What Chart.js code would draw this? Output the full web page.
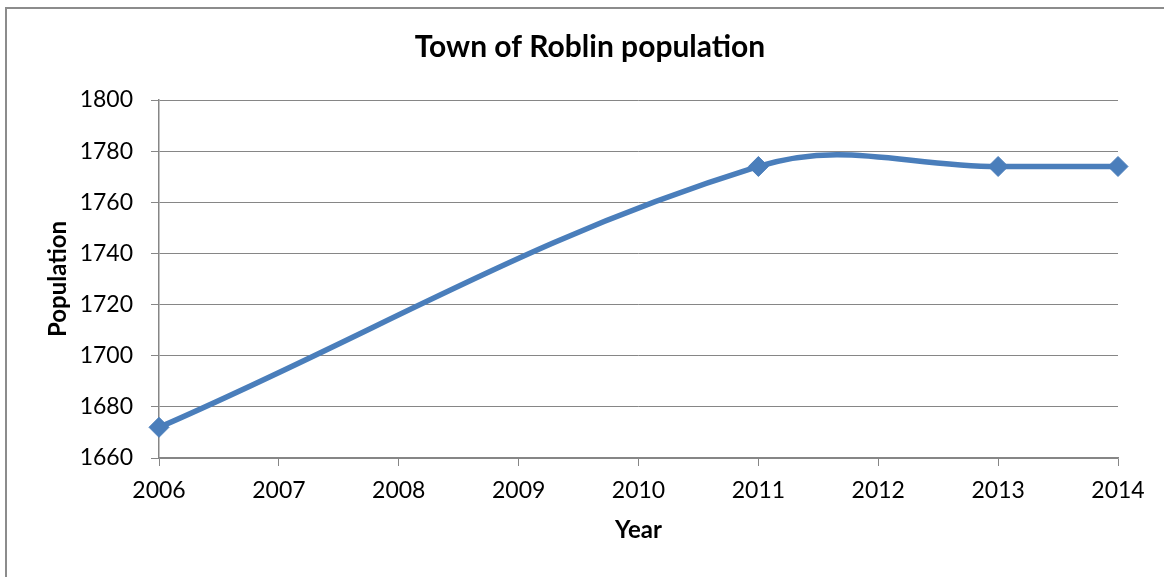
<!DOCTYPE html>
<html>
<head>
<meta charset="utf-8">
<script src="https://cdn.jsdelivr.net/npm/chart.js@4"></script>
<style>
  html, body { margin: 0; padding: 0; background: #fff; overflow: hidden; }
  #frame {
    position: absolute; left: 5px; top: 7px; width: 1200px; height: 600px;
    border-left: 2px solid #8c8c8c; border-top: 2px solid #8c8c8c;
  }
  #wrap { position: absolute; left: 0; top: 0; width: 1164px; height: 577px; }
</style>
</head>
<body>
<div id="frame"></div>
<div id="wrap"><canvas id="popChart"></canvas></div>
<script>
// Chart data
const years = [2006, 2011, 2013, 2014];
const population = [1672, 1774, 1774, 1774];
const yearTicks = [2006, 2007, 2008, 2009, 2010, 2011, 2012, 2013, 2014];
const popTicks = [1660, 1680, 1700, 1720, 1740, 1760, 1780, 1800];

const gridColor = "#868686";
const lineColor = "#4a7ebb";
const fontFamily = "Lato, 'Open Sans', sans-serif";

const points = years.map((year, i) => ({ x: year, y: population[i] }));

const ctx = document.getElementById("popChart").getContext("2d");
new Chart(ctx, {
  type: "line",
  data: {
    datasets: [
      {
        label: "Population",
        data: points,
        borderColor: lineColor,
        backgroundColor: lineColor,
        borderWidth: 5.5,
        tension: 0.38,
        fill: false,
        clip: false,
        pointStyle: "rectRot",
        pointRadius: 10,
        pointHoverRadius: 10,
        pointBorderWidth: 1,
      },
    ],
  },
  options: {
    responsive: true,
    maintainAspectRatio: false,
    animation: false,
    layout: { padding: { left: 16, right: 0, top: 0, bottom: 0 } },
    plugins: {
      legend: { display: false },
      tooltip: { enabled: false },
      title: {
        display: true,
        text: "Town of Roblin population",
        color: "#000",
        font: { family: fontFamily, size: 30, weight: "bold" },
        padding: { top: 29, bottom: 35 },
      },
    },
    scales: {
      x: {
        type: "linear",
        min: yearTicks[0],
        max: yearTicks[yearTicks.length - 1],
        afterBuildTicks: (scale) => {
          scale.ticks = yearTicks.map((v) => ({ value: v }));
        },
        afterFit: (scale) => {
          scale.height = 119;
        },
        ticks: {
          color: "#000",
          font: { family: fontFamily, size: 23 },
          padding: 11,
          maxRotation: 0,
          autoSkip: false,
          callback: (value) => String(value),
        },
        grid: {
          drawOnChartArea: false,
          drawTicks: true,
          tickLength: 8,
          color: gridColor,
          lineWidth: 1,
        },
        border: { display: true, color: gridColor, width: 1.5 },
        title: {
          display: true,
          text: "Year",
          color: "#000",
          font: { family: fontFamily, size: 24, weight: "bold" },
          padding: { top: 0, bottom: 32 },
        },
      },
      y: {
        type: "linear",
        position: "left",
        min: popTicks[0],
        max: popTicks[popTicks.length - 1],
        afterBuildTicks: (scale) => {
          scale.ticks = popTicks.map((v) => ({ value: v }));
        },
        afterFit: (scale) => {
          scale.width = 143;
        },
        ticks: {
          color: "#000",
          font: { family: fontFamily, size: 23 },
          padding: 18,
          callback: (value) => String(value),
        },
        grid: {
          drawTicks: true,
          tickLength: 8,
          color: gridColor,
          lineWidth: 1,
        },
        border: { display: true, color: gridColor, width: 1.5 },
        title: {
          display: true,
          text: "Population",
          color: "#000",
          font: { family: fontFamily, size: 24, weight: "bold" },
          padding: { top: 28, bottom: 0 },
        },
      },
      // empty right axis, only keeps the plot area's right edge in place
      spacer: {
        type: "linear",
        position: "right",
        display: true,
        ticks: { display: false },
        grid: { display: false, drawTicks: false },
        border: { display: false },
        afterFit: (scale) => {
          scale.width = 46;
        },
      },
    },
  },
});
</script>
</body>
</html>
